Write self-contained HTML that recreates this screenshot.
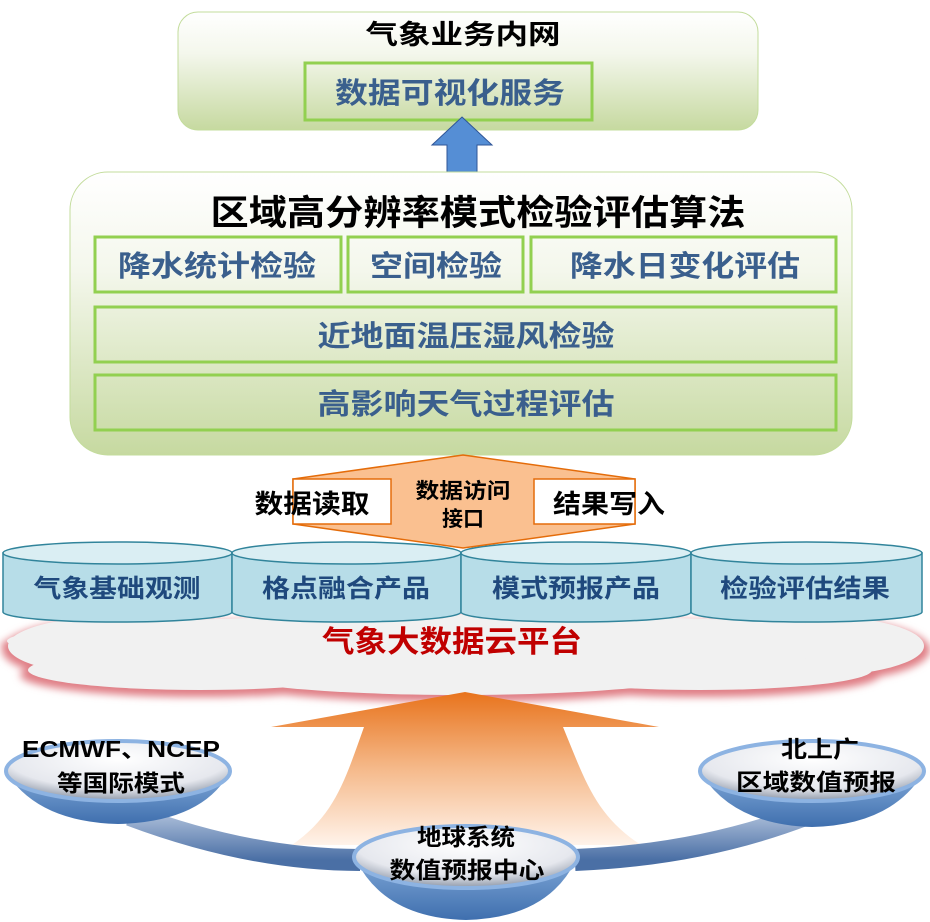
<!DOCTYPE html>
<html><head><meta charset="utf-8"><style>
html,body{margin:0;padding:0;background:#fff;width:930px;height:922px;overflow:hidden}
svg text{font-family:"Liberation Sans","Noto Sans CJK SC",sans-serif;font-weight:bold}
</style></head><body>
<svg width="930" height="922" viewBox="0 0 930 922" xmlns="http://www.w3.org/2000/svg">
<defs>
<linearGradient id="gg" x1="0" y1="0" x2="0" y2="1"><stop offset="0" stop-color="#ffffff"/><stop offset="0.35" stop-color="#f4f7ec"/><stop offset="1" stop-color="#c6d9a0"/></linearGradient>
<linearGradient id="og" x1="0" y1="0" x2="0" y2="1"><stop offset="0" stop-color="#e8731c"/><stop offset="0.5" stop-color="#f5b98a"/><stop offset="1" stop-color="#fff3ea"/></linearGradient>
<linearGradient id="arc" x1="0" y1="0" x2="0" y2="1"><stop offset="0" stop-color="#a9bcd8"/><stop offset="1" stop-color="#4a6fa5"/></linearGradient>
<radialGradient id="bowl" cx="0.5" cy="0.3" r="0.7"><stop offset="0" stop-color="#ffffff"/><stop offset="0.7" stop-color="#e6e8ee"/><stop offset="1" stop-color="#8e98a8"/></radialGradient>
<linearGradient id="bb" x1="0" y1="0" x2="0" y2="1"><stop offset="0" stop-color="#7ea6d6"/><stop offset="1" stop-color="#3f6fae"/></linearGradient>
<filter id="bl" x="-10%" y="-30%" width="120%" height="160%"><feGaussianBlur stdDeviation="4"/></filter>
</defs>

<!-- top box -->
<rect x="178" y="12" width="580" height="118" rx="20" fill="url(#gg)" stroke="#c3dc9c" stroke-width="1"/>
<text x="463" y="44" font-size="27" text-anchor="middle" fill="#000" textLength="195" lengthAdjust="spacingAndGlyphs">气象业务内网</text>
<rect x="305" y="63" width="287" height="57" fill="none" stroke="#92d050" stroke-width="3"/>
<text x="450" y="103" font-size="29" text-anchor="middle" fill="#3a5f8d" textLength="230" lengthAdjust="spacingAndGlyphs">数据可视化服务</text>

<!-- blue up arrow -->
<polygon points="462,117 492,145 477,145 477,172 447,172 447,145 432,145" fill="#558ed5" stroke="#2f5597" stroke-width="1"/>

<!-- big box -->
<rect x="70" y="172" width="782" height="283" rx="38" fill="url(#gg)" stroke="#c3dc9c" stroke-width="1"/>
<text x="478" y="225" font-size="35" text-anchor="middle" fill="#000" textLength="535" lengthAdjust="spacingAndGlyphs">区域高分辨率模式检验评估算法</text>
<g fill="none" stroke="#92d050" stroke-width="3">
<rect x="95" y="237" width="246" height="55"/>
<rect x="348" y="237" width="175" height="55"/>
<rect x="531" y="237" width="305" height="55"/>
<rect x="95" y="307" width="741" height="55"/>
<rect x="95" y="375" width="741" height="55"/>
</g>
<g font-size="29" text-anchor="middle" fill="#3a5f8d">
<text x="217" y="276" textLength="198" lengthAdjust="spacingAndGlyphs">降水统计检验</text>
<text x="436" y="276" textLength="132" lengthAdjust="spacingAndGlyphs">空间检验</text>
<text x="685" y="276" textLength="230" lengthAdjust="spacingAndGlyphs">降水日变化评估</text>
<text x="466" y="346" textLength="297" lengthAdjust="spacingAndGlyphs">近地面温压湿风检验</text>
<text x="466" y="414" textLength="297" lengthAdjust="spacingAndGlyphs">高影响天气过程评估</text>
</g>

<!-- cloud -->
<g fill="#e07f86" filter="url(#bl)">
<ellipse cx="120" cy="650" rx="118" ry="32"/>
<ellipse cx="200" cy="675" rx="180" ry="22"/>
<ellipse cx="460" cy="676" rx="250" ry="26"/>
<ellipse cx="700" cy="675" rx="180" ry="22"/>
<ellipse cx="815" cy="650" rx="115" ry="32"/>
<ellipse cx="463" cy="645" rx="462" ry="28"/>
</g>
<g fill="#f1f1f1">
<ellipse cx="122" cy="646" rx="114" ry="30"/>
<ellipse cx="200" cy="670" rx="172" ry="20"/>
<ellipse cx="460" cy="671" rx="244" ry="24"/>
<ellipse cx="700" cy="670" rx="172" ry="20"/>
<ellipse cx="813" cy="646" rx="111" ry="30"/>
<ellipse cx="463" cy="641" rx="456" ry="26"/>
</g>
<text x="452" y="652" font-size="30" text-anchor="middle" fill="#c00000" textLength="260" lengthAdjust="spacingAndGlyphs">气象大数据云平台</text>

<!-- cylinders -->
<g stroke="#31849b" stroke-width="1.5">
<path d="M3,553 L3,612 A114.5,10 0 0 0 232,612 L232,553 Z" fill="#b7dde8"/>
<ellipse cx="117.5" cy="553" rx="114.5" ry="11" fill="#daeef3"/>
<path d="M232,553 L232,612 A114.5,10 0 0 0 461,612 L461,553 Z" fill="#b7dde8"/>
<ellipse cx="346.5" cy="553" rx="114.5" ry="11" fill="#daeef3"/>
<path d="M461,553 L461,612 A115,10 0 0 0 691,612 L691,553 Z" fill="#b7dde8"/>
<ellipse cx="576" cy="553" rx="115" ry="11" fill="#daeef3"/>
<path d="M691,553 L691,612 A115.5,10 0 0 0 922,612 L922,553 Z" fill="#b7dde8"/>
<ellipse cx="806.5" cy="553" rx="115.5" ry="11" fill="#daeef3"/>
</g>
<g font-size="25" text-anchor="middle" fill="#1f497d">
<text x="117" y="597" textLength="167" lengthAdjust="spacingAndGlyphs">气象基础观测</text>
<text x="346" y="597" textLength="168" lengthAdjust="spacingAndGlyphs">格点融合产品</text>
<text x="576" y="597" textLength="168" lengthAdjust="spacingAndGlyphs">模式预报产品</text>
<text x="805" y="597" textLength="170" lengthAdjust="spacingAndGlyphs">检验评估结果</text>
</g>

<!-- orange interface arrow -->
<polygon points="463,455 635,479 635,524 463,548 293,524 293,479" fill="#fac090" stroke="#e46c0a" stroke-width="1.5"/>
<rect x="293" y="479" width="98" height="45" fill="#fff" stroke="#e46c0a" stroke-width="1.5"/>
<rect x="534" y="479" width="101" height="45" fill="#fff" stroke="#e46c0a" stroke-width="1.5"/>
<text x="312" y="513" font-size="26" text-anchor="middle" fill="#000" font-weight="normal" textLength="115" lengthAdjust="spacingAndGlyphs">数据读取</text>
<text x="609" y="513" font-size="26" text-anchor="middle" fill="#000" font-weight="normal" textLength="112" lengthAdjust="spacingAndGlyphs">结果写入</text>
<text x="463" y="498" font-size="21" text-anchor="middle" fill="#000" font-weight="normal" textLength="95" lengthAdjust="spacingAndGlyphs">数据访问</text>
<text x="463" y="526" font-size="21" text-anchor="middle" fill="#000" font-weight="normal">接口</text>

<!-- big orange up arrow -->
<path d="M465,692 L659,727 L563,727 C585,780 595,815 641,845 L292,845 C335,815 345,780 364,727 L271,727 Z" fill="url(#og)"/>

<!-- arc -->
<path d="M130,815 Q250,860 360,860" fill="none" stroke="url(#arc)" stroke-width="22"/>
<path d="M575,860 Q700,855 805,815" fill="none" stroke="url(#arc)" stroke-width="22"/>

<!-- bowls -->
<path d="M8,775 Q40,822 118,824 Q200,822 228,775 Z" fill="url(#bb)"/>
<ellipse cx="118" cy="771" rx="112" ry="30" fill="url(#bowl)" stroke="#8db3e2" stroke-width="4"/>
<path d="M702,775 Q735,825 812,827 Q890,825 922,775 Z" fill="url(#bb)"/>
<ellipse cx="812" cy="771" rx="112" ry="30" fill="url(#bowl)" stroke="#8db3e2" stroke-width="4"/>
<path d="M356,860 Q385,918 466,920 Q548,918 576,860 Z" fill="url(#bb)"/>
<ellipse cx="466" cy="857" rx="112" ry="31" fill="url(#bowl)" stroke="#8db3e2" stroke-width="4"/>

<g font-size="23" text-anchor="middle" fill="#000" font-weight="normal">
<text x="121" y="757" font-weight="bold" textLength="198" lengthAdjust="spacingAndGlyphs">ECMWF、NCEP</text>
<text x="121" y="791" textLength="128" lengthAdjust="spacingAndGlyphs">等国际模式</text>
<text x="820" y="757" textLength="78" lengthAdjust="spacingAndGlyphs">北上广</text>
<text x="816" y="790" textLength="160" lengthAdjust="spacingAndGlyphs">区域数值预报</text>
<text x="466" y="845" textLength="98" lengthAdjust="spacingAndGlyphs">地球系统</text>
<text x="467" y="878" textLength="155" lengthAdjust="spacingAndGlyphs">数值预报中心</text>
</g>
</svg>
</body></html>
